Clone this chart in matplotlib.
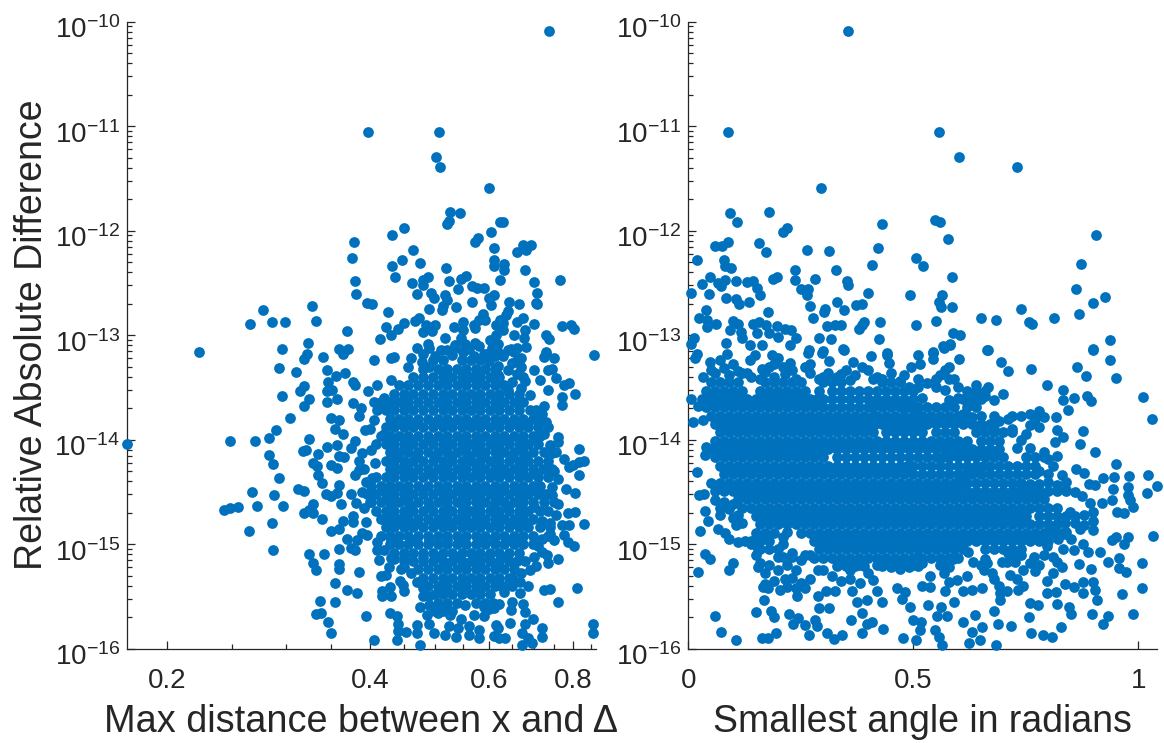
# scatter of relative difference, left = max distance, right = smallest angle
import numpy as np
import matplotlib
matplotlib.use("Agg")
import matplotlib.pyplot as plt
from matplotlib.ticker import FixedLocator, FixedFormatter, NullFormatter
from matplotlib.transforms import ScaledTranslation

y_ticks = [-16, -15, -14, -13, -12, -11, -10]
y_labels = ["$10^{%d}$" % e for e in y_ticks]
left_xticks = [0.2, 0.4, 0.6, 0.8]
left_xticklabels = ["0.2", "0.4", "0.6", "0.8"]
right_xticks = [0, 0.5, 1]
right_xticklabels = ["0", "0.5", "1"]

# (x, log10 of difference)
left_points = [
    (.738,-10.09),(.398,-11.06),(.506,-11.06),(.501,-11.29),(.508,-11.39),(.601,-11.59),(.525,-11.82),(.544,-11.83),
    (.523,-11.91),(.521,-11.94),(.449,-11.97),(.623,-11.92),(.629,-11.92),(.604,-12.01),(.431,-12.04),(.379,-12.11),
    (.578,-12.07),(.573,-12.11),(.611,-12.17),(.464,-12.18),(.692,-12.14),(.675,-12.14),(.681,-12.18),(.660,-12.2),
    (.376,-12.26),(.446,-12.28),(.61,-12.28),(.633,-12.32),(.611,-12.34),(.475,-12.31),(.432,-12.34),(.518,-12.36),
    (.633,-12.38),(.678,-12.38),(.436,-12.44),(.555,-12.43),(.546,-12.46),(.488,-12.44),(.480,-12.47),(.380,-12.48),
    (.462,-12.5),(.523,-12.48),(.624,-12.47),(.765,-12.47),(.7,-12.49),(.480,-12.52),(.567,-12.53),(.577,-12.55),
    (.590,-12.55),(.541,-12.56),(.493,-12.6),(.381,-12.61),(.470,-12.61),(.516,-12.62),(.611,-12.62),(.6,-12.64),
    (.708,-12.6),(.498,-12.64),(.520,-12.66),(.567,-12.68),(.642,-12.68),(.665,-12.7),(.396,-12.69),(.403,-12.7),
    (.705,-12.69),(.708,-12.7),(.605,-12.71),(.328,-12.72),(.513,-12.72),(.536,-12.73),(.489,-12.75),(.278,-12.76),
    (.512,-12.76),(.640,-12.77),(.426,-12.78),(.637,-12.81),(.588,-12.8),(.473,-12.84),(.466,-12.86),(.450,-12.88),
    (.333,-12.86),(.286,-12.87),(.299,-12.87),(.266,-12.89),(.675,-12.84),(.66,-12.87),(.623,-12.85),(.581,-12.85),
    (.55,-12.87),(.592,-12.85),(.70,-12.89),(.63,-12.88),(.77,-12.91),(.795,-12.9),(.803,-12.94),(.422,-12.92),
    (.484,-12.9),(.5,-12.9),(.532,-12.92),(.57,-12.9),(.615,-12.9),(.44,-12.94),(.37,-12.96),(.63,-12.95),
    (.68,-12.95),(.55,-12.95),(.572,-12.93),(.479,-12.97),(.495,-12.96),(.43,-13.0),(.73,-13.0),(.655,-13.0),
    (.615,-13.0),(.738,-13.04),(.414,-13.04),(.516,-13.03),(.546,-13.03),(.602,-13.05),(.676,-13.03),(.324,-13.07),
    (.572,-13.07),(.487,-13.08),(.534,-13.09),(.62,-13.08),(.553,-13.08),(.682,-13.11),(.296,-13.13),(.36,-13.13),
    (.49,-13.12),(.606,-13.12),(.648,-13.13),(.73,-13.16),(.223,-13.16),
    (.858,-13.19),(.323,-13.18),(.32,-13.23),(.341,-13.21),(.293,-13.31),(.311,-13.35),(.346,-13.33),(.365,-13.18),
    (.371,-13.13),(.405,-13.24),(.43,-13.22),(.434,-13.21),(.46,-13.22),(.477,-13.26),(.455,-13.3),(.356,-13.39),
    (.368,-13.36),(.347,-13.45),(.378,-13.45),(.38,-13.48),(.43,-13.43),(.41,-13.48),(.32,-13.49),(.315,-13.53),
    (.296,-13.58),(.325,-13.61),(.345,-13.53),(.352,-13.52),(.346,-13.64),(.357,-13.61),(.378,-13.65),(.398,-13.53),
    (.32,-13.68),(.305,-13.79),(.388,-13.7),(.385,-13.77),(.35,-13.79),(.36,-13.81),(.406,-13.81),(.355,-13.9),
    (.394,-13.91),(.365,-13.95),(.29,-13.91),(.284,-13.98),(.248,-14.01),(.27,-14.01),(.1747,-14.04),(.325,-13.99),
    (.38,-14.01),(.345,-14.07),(.358,-14.05),(.375,-14.08),(.318,-14.11),(.322,-14.1),(.335,-14.14),(.284,-14.15),
    (.39,-14.13),(.402,-14.1),(.36,-14.16),(.287,-14.23),(.366,-14.17),(.33,-14.22),(.334,-14.25),(.35,-14.24),
    (.357,-14.27),(.407,-14.22),(.385,-14.29),(.392,-14.28),(.335,-14.34),(.34,-14.41),(.293,-14.37),(.38,-14.34),
    (.403,-14.37),(.36,-14.43),(.313,-14.47),(.32,-14.49),(.268,-14.5),(.288,-14.53),(.344,-14.52),(.35,-14.54),
    (.357,-14.51),(.375,-14.52),(.362,-14.62),(.382,-14.61),(.243,-14.67),(.248,-14.65),(.255,-14.64),(.272,-14.63),
    (.297,-14.63),(.33,-14.62),(.325,-14.67),(.32,-14.7),(.33,-14.7),(.392,-14.65),(.34,-14.76),(.378,-14.73),
    (.365,-14.78),(.378,-14.79),(.286,-14.8),(.395,-14.79),(.36,-14.85),(.35,-14.87),(.265,-14.87),(.389,-14.89),
    (.37,-14.95),(.396,-14.91),(.383,-14.96),(.36,-15.05),(.38,-15.06),(.375,-15.04),(.287,-15.06),(.342,-15.09),
    (.325,-15.09),(.41,-15.06),(.413,-15.15),(.33,-15.18),(.333,-15.25),(.36,-15.19),(.36,-15.24),(.43,-15.13),
    (.427,-15.22),(.445,-15.24),(.385,-15.27),(.415,-15.3),(.423,-15.29),(.355,-15.37),(.443,-15.35),(.448,-15.39),
    (.37,-15.44),(.383,-15.47),(.417,-15.45),(.428,-15.41),(.417,-15.5),(.43,-15.5),(.45,-15.45),(.337,-15.54),
    (.355,-15.55),(.48,-15.5),(.395,-15.69),(.333,-15.67),(.338,-15.66),(.347,-15.74),(.428,-15.66),(.438,-15.69),
    (.44,-15.76),(.475,-15.6),(.486,-15.68),(.35,-15.85),(.44,-15.83),(.452,-15.84),(.47,-15.77),(.49,-15.76),
    (.47,-15.85),(.405,-15.92),(.438,-15.92),(.475,-15.96),(.498,-15.85),(.516,-15.87),(.523,-15.78),(.536,-15.89),
    (.54,-15.8),(.56,-15.87),(.56,-15.78),(.58,-15.9),(.58,-15.82),(.57,-15.68),(.553,-15.58),(.59,-15.69),
    (.615,-15.77),(.62,-15.8),(.61,-15.88),(.622,-15.9),(.634,-15.9),(.645,-15.75),(.65,-15.55),(.648,-15.63),
    (.675,-15.57),(.68,-15.65),(.697,-15.72),(.68,-15.76),(.672,-15.85),(.685,-15.9),(.695,-15.95),(.673,-15.96),
    (.72,-15.8),(.72,-15.89),(.76,-15.55),(.855,-15.76),(.857,-15.85),(.81,-15.42),(.74,-15.43),(.725,-15.44),
    (.685,-15.4),(.668,-15.47),(.668,-15.36),(.632,-15.46),(.622,-15.57),(.61,-15.61),(.76,-15.14),(.735,-15.18),
    (.705,-15.21),(.733,-15.1),(.803,-15.02),(.785,-14.98),(.75,-14.96),(.775,-14.91),(.83,-14.81),(.79,-14.82),
    (.77,-14.82),(.74,-14.8),(.785,-14.7),(.805,-14.69),(.76,-14.62),(.745,-14.53),(.805,-14.51),(.78,-14.47),
    (.815,-14.34),(.79,-14.26),(.83,-14.2),(.815,-14.21),(.8,-14.24),(.775,-14.18),(.815,-14.09),(.755,-14.12),
    (.76,-14.02),(.76,-13.97),(.735,-13.88),(.805,-13.56),(.77,-13.67),(.79,-13.46),(.775,-13.48),(.77,-13.59),
    (.755,-13.41),(.745,-13.32),(.735,-13.33),(.75,-13.22),(.73,-13.18),(.725,-13.21),(.715,-13.43),(.735,-13.52),
    (.725,-13.68),(.705,-13.72),(.675,-13.4),(.7,-13.33),(.655,-13.16),(.67,-13.22),(.66,-13.37),(.64,-13.52),
    (.67,-13.51),(.69,-13.57),(.665,-13.62),(.62,-13.29),(.612,-13.2),
    (.51,-13.14),(.53,-13.19),(.55,-13.16),(.57,-13.2),(.6,-13.25),(.63,-13.2),(.65,-13.27),
    (.5,-13.2),(.52,-13.14),(.535,-13.12),(.56,-13.13),(.58,-13.1),(.59,-13.18),(.6,-13.17),(.62,-13.16),(.64,-13.14),
    (.66,-13.12),(.66,-13.25),(.64,-13.33),(.62,-13.38),(.65,-13.45),(.67,-13.3),(.68,-13.44),(.48,-13.18),(.47,-13.12),
    (.49,-13.3),(.72,-13.75),(.73,-13.83),(.725,-13.95),(.74,-14.05),(.745,-14.13),(.735,-14.2),(.75,-14.3),(.76,-14.38),
    (.745,-14.45),(.73,-14.52),(.75,-14.6),(.735,-14.68),(.755,-14.72),(.72,-14.78),(.74,-14.9),(.72,-14.95),(.71,-15.02),
    (.72,-15.07),(.7,-15.12),(.68,-15.16),(.69,-15.25),(.67,-15.28),(.65,-15.32),(.63,-15.4),(.65,-15.4),
    (.405,-13.64),(.42,-13.6),(.41,-13.72),(.40,-13.9),(.42,-13.95),(.385,-14.2),(.395,-14.4),(.39,-14.5),(.4,-14.6),
    (.41,-14.98),(.42,-15.06),(.435,-15.14),(.45,-15.22),(.46,-15.28),(.47,-15.36),(.48,-15.42),(.49,-15.5),(.49,-15.58),
    (.505,-15.66),(.525,-15.68),(.545,-15.72),(.6,-15.62),(.59,-15.6),
]

# the solid part of the cloud, row by row
left_core_y = [-13.24,-13.32,-13.40,-13.48,-13.56,-13.64,-13.72,-13.80,-13.88,-13.96,-14.04,-14.12,-14.20,-14.28,-14.36,
               -14.44,-14.52,-14.60,-14.68,-14.76,-14.84,-14.92,-15.00,-15.08,-15.16,-15.24,-15.32,-15.40,-15.48,-15.56,-15.64,
               -13.84,-14.00,-14.16,-14.32,-14.48,-14.64,-14.80,-14.96,-15.12]
left_core_x = [
    [.496,.513,.547,.565,.583],
    [.48,.504,.521,.538,.556,.574,.592,.612],
    [.464,.48,.496,.513,.53,.547,.565,.583,.602,.622],
    [.442,.456,.472,.488,.504,.521,.538,.556,.574,.592,.612,.632],
    [.435,.449,.464,.48,.496,.513,.53,.547,.565,.583,.602,.622,.642,.664],
    [.415,.428,.442,.456,.472,.488,.504,.521,.538,.556,.574,.592,.612,.632,.653,.675],
    [.422,.435,.449,.464,.48,.496,.513,.53,.547,.565,.583,.602,.622,.642,.664,.69],
    [.428,.442,.456,.472,.488,.504,.521,.538,.556,.574,.592,.612,.632,.653,.675,.697,.715],
    [.422,.435,.449,.464,.48,.496,.513,.53,.547,.565,.583,.602,.622,.642,.664,.686,.709],
    [.415,.428,.442,.456,.472,.488,.504,.521,.538,.556,.574,.592,.612,.632,.653,.675,.697,.715],
    [.409,.422,.435,.449,.464,.48,.496,.513,.53,.547,.565,.583,.602,.622,.642,.664,.686,.709],
    [.428,.442,.456,.472,.488,.504,.521,.538,.556,.574,.592,.612,.632,.653,.675,.697,.725],
    [.422,.435,.449,.464,.48,.496,.513,.53,.547,.565,.583,.602,.622,.642,.664,.686,.709],
    [.428,.442,.456,.472,.488,.504,.521,.538,.556,.574,.592,.612,.632,.653,.675,.697,.721,.745],
    [.409,.422,.435,.449,.464,.48,.496,.513,.53,.547,.565,.583,.602,.622,.642,.664,.686,.709,.735],
    [.402,.415,.428,.442,.456,.472,.488,.504,.521,.538,.556,.574,.592,.612,.632,.653,.675,.697,.715],
    [.396,.409,.422,.435,.449,.464,.48,.496,.513,.53,.547,.565,.583,.602,.622,.642,.664,.686,.709],
    [.402,.415,.428,.442,.456,.472,.488,.504,.521,.538,.556,.574,.592,.612,.632,.653,.675,.697,.725],
    [.409,.422,.435,.449,.464,.48,.496,.513,.53,.547,.565,.583,.602,.622,.642,.664,.686,.715],
    [.415,.428,.442,.456,.472,.488,.504,.521,.538,.556,.574,.592,.612,.632,.653,.675,.697],
    [.422,.435,.449,.464,.48,.496,.513,.53,.547,.565,.583,.602,.622,.642,.664,.686,.715,.74],
    [.415,.428,.442,.456,.472,.488,.504,.521,.538,.556,.574,.592,.612,.632,.653,.675,.697,.735],
    [.428,.442,.456,.472,.488,.504,.521,.538,.556,.574,.592,.612,.632,.653,.675,.697],
    [.435,.449,.464,.48,.496,.513,.53,.547,.565,.583,.602,.622,.642,.664],
    [.449,.464,.48,.496,.513,.53,.547,.565,.583,.602,.622,.642,.66],
    [.472,.488,.504,.521,.538,.556,.574,.592,.612,.632,.653],
    [.48,.496,.513,.53,.547,.565,.583,.602,.622,.642],
    [.488,.504,.521,.538,.556,.574,.592,.612,.625],
    [.5,.513,.53,.547,.565,.583,.602],
    [.504,.521,.538,.574,.592,.608],
    [.5,.513,.53],
    [.44,.47,.5,.53,.56,.59,.62,.65,.68],
    [.43,.46,.49,.52,.55,.58,.61,.64,.67,.7],
    [.44,.47,.5,.53,.56,.59,.62,.65,.68],
    [.43,.46,.49,.52,.55,.58,.61,.64,.67,.7],
    [.42,.45,.48,.51,.54,.57,.6,.63,.66,.69],
    [.43,.46,.49,.52,.55,.58,.61,.64,.67,.7],
    [.44,.47,.5,.53,.56,.59,.62,.65,.68],
    [.43,.46,.49,.52,.55,.58,.61,.64,.67],
    [.45,.48,.51,.54,.57,.6,.63],
]

right_points = [
    (.355,-10.09),(.088,-11.06),(.557,-11.06),(.602,-11.29),(.73,-11.39),(.295,-11.59),(.092,-11.83),(.179,-11.82),
    (.108,-11.92),(.43,-11.94),(.547,-11.9),(.56,-11.92),(.22,-11.97),(.21,-12.01),(.906,-12.04),(.578,-12.08),
    (.089,-12.11),(.06,-12.15),(.074,-12.15),(.156,-12.12),(.173,-12.2),(.264,-12.18),(.312,-12.19),(.421,-12.17),
    (.02,-12.28),(.08,-12.28),(.081,-12.34),(.094,-12.36),(.507,-12.26),(.521,-12.34),(.409,-12.33),(.873,-12.32),
    (.236,-12.38),(.328,-12.38),(.048,-12.44),(.585,-12.44),(.198,-12.44),(.188,-12.46),(.237,-12.47),(.281,-12.46),
    (.081,-12.47),(.105,-12.48),(.13,-12.49),(.144,-12.48),(.352,-12.48),(.354,-12.52),(.067,-12.5),(.03,-12.51),
    (.072,-12.53),(.153,-12.55),(.25,-12.56),(.266,-12.56),(.264,-12.62),(.862,-12.56),(.007,-12.6),(.046,-12.61),
    (.159,-12.62),(.4,-12.6),(.493,-12.62),(.563,-12.62),(.558,-12.68),(.561,-12.73),(.585,-12.73),(.084,-12.64),
    (.105,-12.65),(.113,-12.7),(.135,-12.68),(.33,-12.68),(.926,-12.63),(.899,-12.69),(.385,-12.7),(.373,-12.71),
    (.27,-12.72),(.304,-12.75),(.301,-12.78),(.039,-12.76),(.347,-12.76),(.178,-12.78),(.739,-12.75),(.867,-12.8),
    (.023,-12.84),(.041,-12.85),(.277,-12.84),(.65,-12.84),(.683,-12.85),(.813,-12.84),(.758,-12.87),(.763,-12.89),
    (.55,-12.86),(.505,-12.9),(.426,-12.87),(.391,-12.87),(.387,-12.9),(.1,-12.86),(.111,-12.89),(.061,-12.89),
    (.042,-12.92),(.143,-12.89),(.158,-12.87),(.173,-12.9),(.309,-12.91),(.327,-12.9),(.34,-12.9),(.198,-12.91),
    (.215,-12.94),(.228,-12.95),(.38,-12.94),(.093,-12.95),(.116,-12.97),(.153,-12.98),(.18,-12.98),(.2,-13.02),
    (.589,-12.98),(.604,-13.0),(.239,-13.03),(.291,-13.03),(.318,-13.04),(.423,-13.04),(.119,-13.03),(.013,-13.03),
    (.084,-13.07),(.137,-13.09),(.163,-13.09),(.226,-13.09),(.007,-13.08),(.581,-13.08),(.565,-13.1),(.936,-13.05),
    (.268,-13.14),(.344,-13.13),(.299,-13.15),(.663,-13.14),(.899,-13.13),(.544,-13.16),(.441,-13.17),
    (.019,-13.18),(.015,-13.22),(.085,-13.18),(.07,-13.24),(.048,-13.26),(.148,-13.19),(.137,-13.24),(.185,-13.19),
    (.2,-13.22),(.163,-13.32),(.225,-13.27),(.215,-13.37),(.265,-13.17),(.296,-13.17),(.313,-13.25),(.346,-13.14),
    (.367,-13.26),(.385,-13.3),(.407,-13.2),(.442,-13.19),(.446,-13.27),(.511,-13.19),(.494,-13.3),(.515,-13.28),
    (.544,-13.17),(.544,-13.23),(.567,-13.12),(.581,-13.09),(.665,-13.14),(.601,-13.23),(.58,-13.3),(.57,-13.33),
    (.695,-13.26),(.71,-13.34),(.761,-13.32),(.899,-13.14),(.936,-13.24),(.95,-13.41),(.863,-13.3),(.884,-13.39),
    (1.011,-13.59),(1.031,-13.8),(.796,-13.48),(.833,-13.52),(.833,-13.62),(.858,-13.6),(.885,-13.58),(.894,-13.63),
    (.844,-13.72),(.816,-13.78),(.876,-13.92),(.819,-13.91),(.832,-13.97),(.815,-14.02),(.87,-14.04),(.904,-14.12),
    (.819,-14.16),(.95,-14.23),(.861,-14.28),(.88,-14.32),(.83,-14.34),(.922,-14.37),(.946,-14.36),(.98,-14.35),
    (1.021,-14.34),(.976,-14.45),(.891,-14.42),(.904,-14.43),(.944,-14.47),(1.041,-14.44),(1.02,-14.51),(.978,-14.53),
    (.874,-14.54),(.941,-14.58),(.989,-14.64),(.981,-14.58),(.919,-14.61),(.893,-14.61),(.952,-14.69),(.968,-14.7),
    (.848,-14.69),(.9,-14.69),(.9,-14.78),(.87,-14.85),(.9,-14.86),(.837,-14.8),(.811,-14.86),(.837,-14.9),
    (.822,-14.95),(.95,-14.93),(.941,-14.96),(.978,-14.93),(.968,-15.0),(1.033,-14.92),(.878,-15.0),(.889,-15.07),
    (.915,-15.07),(.833,-15.05),(.856,-15.06),(.796,-15.02),(.811,-15.12),(.83,-15.22),(.819,-15.17),(.867,-15.19),
    (.894,-15.24),(.933,-15.17),(.956,-15.13),(.956,-15.23),(.972,-15.27),(1.007,-15.18),(.81,-15.28),(.796,-15.35),
    (.837,-15.38),(.856,-15.41),(.878,-15.36),(.9,-15.36),(.878,-15.47),(.904,-15.44),(.907,-15.53),(1.007,-15.42),
    (.964,-15.48),(.796,-15.47),(.816,-15.46),(.82,-15.57),(.759,-15.56),(.776,-15.58),(.846,-15.6),(.85,-15.67),
    (.896,-15.67),(.933,-15.69),(.987,-15.67),(.922,-15.76),(.758,-15.7),(.827,-15.79),(.762,-15.85),(.787,-15.87),
    (.807,-15.89),(.716,-15.78),(.687,-15.76),(.679,-15.64),(.636,-15.68),(.652,-15.79),(.63,-15.84),(.648,-15.92),
    (.624,-15.95),(.684,-15.96),(.611,-15.74),(.574,-15.69),(.552,-15.69),(.562,-15.6),(.59,-15.55),(.533,-15.58),
    (.548,-15.82),(.556,-15.89),(.564,-15.96),(.505,-15.92),(.478,-15.9),(.515,-15.82),(.5,-15.73),(.517,-15.74),
    (.493,-15.6),(.433,-15.81),(.409,-15.74),(.396,-15.76),(.385,-15.85),(.387,-15.66),(.361,-15.73),(.341,-15.87),
    (.324,-15.91),(.309,-15.85),(.269,-15.87),(.285,-15.78),(.281,-15.73),(.259,-15.77),(.244,-15.71),(.233,-15.76),
    (.224,-15.67),(.313,-15.61),(.29,-15.61),(.195,-15.85),(.178,-15.9),(.163,-15.9),(.106,-15.92),(.072,-15.84),
    (.059,-15.69),(.19,-15.7),(.184,-15.64),(.15,-15.65),(.169,-15.53),(.022,-15.27),(.09,-15.25),(.1,-15.18),
    (.048,-15.14),(.037,-15.09),(.027,-14.87),(.044,-14.78),(.037,-14.68),(.067,-14.85),(.081,-14.89),(.005,-13.61),
    (.011,-13.83),(.019,-14.31),(.024,-14.53),(.035,-14.52),(.039,-14.07),(.036,-14.15),(.033,-13.4),(.022,-13.68),
    (.033,-13.81),(.167,-15.41),(.178,-15.42),(.204,-15.44),(.241,-15.5),(.215,-15.33),(.27,-15.33),(.289,-15.25),
    (.289,-15.5),(.307,-15.45),(.327,-15.45),(.363,-15.45),(.374,-15.55),(.396,-15.53),(.431,-15.55),(.419,-15.45),
    (.411,-15.34),(.381,-15.37),(.463,-15.42),(.481,-15.46),(.474,-15.52),(.519,-15.4),(.536,-15.3),(.537,-15.41),
    (.57,-15.45),(.611,-15.45),(.63,-15.44),(.652,-15.42),(.619,-15.3),(.596,-15.34),(.567,-15.28),(.589,-15.14),
    (.622,-15.07),(.633,-15.17),(.663,-15.18),(.674,-15.28),(.656,-15.25),(.693,-15.47),(.707,-15.45),(.693,-15.53),
    (.696,-15.17),(.722,-15.1),(.707,-15.17),(.744,-15.25),(.715,-15.29),(.73,-15.33),(.77,-15.26),(.733,-15.44),
    (.744,-15.4),(.767,-15.12),(.726,-15.17),
    (.06,-13.36),(.09,-13.38),(.12,-13.36),(.19,-13.4),(.24,-13.42),(.27,-13.36),(.3,-13.4),(.34,-13.37),(.37,-13.38),
    (.42,-13.4),(.47,-13.44),(.51,-13.42),(.53,-13.46),(.59,-13.42),(.64,-13.48),(.665,-13.5),
    (.06,-14.58),(.07,-14.65),(.08,-14.6),(.09,-14.66),(.1,-14.62),(.07,-14.72),(.11,-14.72),(.12,-14.8),(.1,-14.75),
    (.105,-14.82),(.09,-14.95),(.11,-14.98),(.125,-14.97),(.14,-15.0),(.155,-15.05),
    (.15,-15.1),(.16,-15.18),(.155,-15.22),(.17,-15.28),(.18,-15.2),(.2,-15.12),(.2,-15.25),(.21,-15.12),(.22,-15.2),
    (.23,-15.32),(.24,-15.25),(.25,-15.15),(.23,-15.12),(.26,-15.1),(.25,-15.37),(.26,-15.42),(.17,-15.38),(.19,-15.35),
    (.24,-15.42),(.22,-15.41),(.3,-15.25),(.32,-15.3),(.34,-15.35),(.36,-15.33),(.36,-15.25),(.38,-15.2),(.4,-15.28),
    (.42,-15.2),(.43,-15.15),(.45,-15.22),(.47,-15.24),(.49,-15.22),(.5,-15.2),(.52,-15.18),(.51,-15.12),
    (.56,-15.2),(.57,-15.15),(.58,-15.36),(.58,-15.22),(.65,-15.2),(.68,-15.33),(.69,-15.4),(.66,-15.14),
    (.74,-15.1),(.76,-15.18),(.78,-15.2),(.79,-15.1),(.71,-15.08),
    (.05,-13.33),(.08,-13.31),(.1,-13.28),(.11,-13.34),(.13,-13.36),(.14,-13.4),(.16,-13.42),(.17,-13.35),(.18,-13.3),
    (.19,-13.28),(.21,-13.3),(.23,-13.33),(.26,-13.3),(.27,-13.28),(.29,-13.42),(.31,-13.36),(.33,-13.4),(.35,-13.33),
    (.36,-13.43),(.4,-13.33),(.41,-13.42),(.43,-13.42),(.45,-13.36),(.48,-13.38),(.49,-13.5),(.51,-13.5),(.55,-13.42),
    (.56,-13.38),(.58,-13.42),(.55,-13.5),(.57,-13.52),(.6,-13.5),(.6,-13.6),(.58,-13.62),(.52,-13.6),(.51,-13.75),
    (.5,-13.7),(.48,-13.7),(.52,-13.8),(.61,-13.75),(.63,-13.78),(.68,-13.62),(.7,-13.56),(.66,-13.58),(.69,-13.82),(.68,-13.9),
    (.76,-13.75),(.78,-13.73),(.77,-13.8),(.79,-13.78),(.76,-13.86),(.78,-13.88),(.75,-13.95),(.71,-13.8),(.72,-13.9),
    (.74,-14.0),(.73,-14.08),(.76,-14.08),(.79,-14.12),(.8,-14.18),(.81,-14.25),(.78,-14.3),(.8,-14.33),(.8,-14.4),
    (.82,-14.43),(.84,-14.4),(.84,-14.48),(.86,-14.5),(.78,-14.42),(.76,-14.42),(.77,-14.5),(.74,-14.45),
    (.86,-14.73),(.86,-14.8),(.84,-14.88),(.85,-14.95),(.88,-14.72),(.88,-14.82),
    (.21,-14.93),(.21,-15.0),(.22,-14.88),(.23,-15.08),(.27,-15.1),
    (.29,-13.53),(.285,-13.61),(.31,-13.77),(.32,-13.85),(.38,-13.53),(.38,-13.61),(.4,-13.61),(.38,-13.69),(.4,-13.69),
    (.41,-13.69),(.41,-13.77),(.42,-13.77),(.415,-13.85),(.4,-14.01),(.41,-14.09),(.49,-13.69),(.51,-13.69),(.48,-13.77),
    (.5,-13.77),(.52,-13.77),(.59,-13.69),(.6,-13.77),(.62,-13.77),(.65,-13.77),(.68,-13.77),(.61,-13.85),(.67,-13.85),
    (.56,-14.01),(.57,-14.09),(.565,-14.17),(.485,-14.25),(.27,-14.25),(.655,-14.25),(.615,-14.33),(.605,-14.41),(.63,-14.73),
    (.74,-14.49),(.76,-14.49),(.13,-14.09),(.14,-14.17),
]

right_core_y = [-13.45,-13.53,-13.61,-13.69,-13.77,-13.85,-13.93,-14.01,-14.09,-14.17,-14.25,-14.33,-14.41,-14.49,-14.57,
                -14.65,-14.73,-14.81,-14.89,-14.97,-15.05,-15.13,-15.21]
right_core_x = [
    [.05,.07,.09,.11,.17,.19,.21,.23,.25,.3,.32,.34,.43,.45,.47],
    [.04,.06,.08,.1,.12,.16,.18,.2,.22,.24,.26,.32,.34,.36,.4,.42,.44,.46,.48,.5,.62,.64,.66],
    [.03,.05,.07,.09,.11,.13,.15,.17,.19,.21,.23,.25,.27,.3,.32,.34,.36,.42,.44,.46,.48,.5,.61,.63,.65],
    [.04,.06,.08,.1,.12,.14,.16,.18,.2,.22,.24,.26,.28,.3,.32,.34,.36,.43,.45,.47,.53,.55,.57,.62,.64],
    [.05,.07,.09,.11,.13,.15,.17,.19,.21,.23,.25,.27,.29,.33,.35,.37,.39,.44,.46,.54,.56,.58,.72,.74],
    [.06,.08,.1,.12,.14,.16,.18,.2,.22,.24,.26,.28,.3,.34,.36,.38,.4,.43,.45,.47,.49,.51,.53,.55,.57,.59,.63,.65],
    [.07,.09,.11,.13,.15,.17,.19,.21,.23,.25,.27,.29,.31,.33,.35,.37,.39,.41,.44,.46,.48,.5,.52,.55,.57,.59,.64,.66,.68,.7,.72],
    [.06,.08,.1,.12,.14,.16,.18,.2,.22,.24,.26,.28,.3,.32,.34,.36,.38,.42,.44,.46,.48,.5,.52,.54,.58,.6,.62,.65,.67,.69],
    [.05,.07,.09,.11,.15,.17,.19,.21,.23,.25,.27,.29,.31,.33,.35,.37,.39,.43,.45,.47,.49,.51,.53,.55,.59,.61,.63,.65,.67,.69],
    [.06,.08,.1,.12,.16,.18,.2,.22,.24,.26,.28,.3,.33,.35,.37,.39,.41,.43,.45,.47,.49,.51,.53,.55,.58,.6,.62,.64,.66,.68,.7,.75,.77,.79],
    [.07,.09,.11,.13,.15,.17,.19,.21,.23,.25,.29,.31,.33,.35,.37,.39,.41,.43,.45,.47,.5,.52,.54,.56,.58,.6,.62,.64,.67,.69,.71,.73,.75,.77],
    [.08,.1,.12,.14,.16,.18,.2,.22,.24,.26,.28,.3,.32,.34,.36,.38,.4,.42,.44,.46,.48,.5,.52,.54,.56,.58,.6,.63,.65,.67,.69,.71,.73,.75,.77],
    [.05,.07,.09,.11,.13,.15,.17,.19,.21,.23,.25,.27,.29,.31,.33,.35,.37,.39,.41,.43,.45,.47,.49,.51,.53,.55,.57,.59,.62,.64,.66,.68,.7,.72,.74],
    [.06,.08,.1,.12,.14,.16,.18,.2,.22,.24,.26,.28,.3,.32,.34,.36,.38,.4,.42,.44,.46,.48,.5,.52,.54,.56,.58,.6,.62,.64,.66,.68,.7,.72,.78,.8,.82,.84],
    [.11,.13,.15,.17,.19,.21,.23,.25,.27,.29,.31,.33,.35,.37,.39,.41,.43,.45,.47,.49,.51,.53,.55,.57,.59,.61,.63,.65,.67,.69,.71,.73,.75,.77,.79],
    [.12,.14,.16,.18,.2,.22,.24,.26,.28,.3,.32,.34,.36,.38,.4,.42,.44,.46,.48,.5,.52,.54,.56,.58,.6,.62,.64,.66,.68,.7,.72,.74,.76,.78,.8,.82],
    [.15,.17,.19,.21,.23,.25,.27,.29,.31,.33,.35,.37,.39,.41,.43,.45,.47,.49,.51,.53,.55,.57,.59,.61,.65,.67,.69,.71,.73,.75,.78,.8,.82,.84],
    [.16,.18,.2,.22,.24,.26,.28,.3,.32,.34,.36,.38,.4,.42,.44,.46,.48,.5,.52,.54,.56,.58,.6,.62,.64,.66,.68,.7,.72,.74,.76,.78,.8,.82],
    [.15,.17,.19,.25,.27,.29,.31,.33,.35,.37,.39,.41,.43,.45,.47,.49,.51,.53,.55,.57,.59,.61,.63,.65,.67,.69,.71,.73,.75,.77,.79,.81,.83],
    [.14,.16,.18,.28,.3,.32,.34,.36,.38,.4,.42,.44,.46,.48,.5,.52,.54,.56,.58,.6,.62,.64,.66,.68,.7,.72,.74,.76,.78,.8],
    [.16,.18,.2,.29,.31,.33,.35,.37,.39,.41,.43,.45,.47,.49,.51,.53,.55,.57,.59,.61,.66,.68,.7,.72,.74],
    [.28,.3,.32,.34,.36,.38,.4,.42,.44,.46,.48,.5,.52,.54,.56,.58,.6],
    [.33,.35,.37,.39,.43,.45,.47,.49,.51],
]


def collect(points, core_y, core_x):
    xs = [p[0] for p in points]
    ys = [10.0 ** p[1] for p in points]
    for e, row in zip(core_y, core_x):
        xs.extend(row)
        ys.extend([10.0 ** e] * len(row))
    return np.array(xs), np.array(ys)


def style_axes(ax):
    ax.spines['top'].set_visible(False)
    ax.spines['right'].set_visible(False)
    for side in ['left', 'bottom']:
        ax.spines[side].set_color('#262626')
        ax.spines[side].set_linewidth(0.9)
    ax.set_yscale('log')
    ax.set_ylim(1e-16, 1e-10)
    ax.yaxis.set_major_locator(FixedLocator([10.0 ** e for e in y_ticks]))
    ax.yaxis.set_major_formatter(FixedFormatter(y_labels))
    minor = [m * 10.0 ** e for e in y_ticks[:-1] for m in range(2, 10)]
    ax.yaxis.set_minor_locator(FixedLocator(minor))
    ax.yaxis.set_minor_formatter(NullFormatter())
    ax.tick_params(which='major', direction='in', length=6, width=0.9, color='#262626',
                   labelcolor='#262626', labelsize=20)
    ax.tick_params(which='minor', direction='in', length=3.5, width=0.9, color='#262626')
    ax.tick_params(axis='x', which='major', pad=14)
    ax.tick_params(axis='y', which='major', pad=5)


plt.rcParams['font.family'] = ['Liberation Sans', 'DejaVu Sans']
plt.rcParams['mathtext.default'] = 'regular'

W, H = 1164.0, 743.0
fig = plt.figure(figsize=(W / 100, H / 100), dpi=100)
bottom = 1 - 648.7 / H
height = (648.7 - 21.7) / H
ax1 = fig.add_axes([127 / W, bottom, (595.7 - 127) / W, height])
ax2 = fig.add_axes([688.3 / W, bottom, (1157.3 - 688.3) / W, height])

blue = '#0072BD'
x1, y1 = collect(left_points, left_core_y, left_core_x)
x2, y2 = collect(right_points, right_core_y, right_core_x)
ax1.scatter(x1, y1, s=60, color=blue, linewidths=0, clip_on=False, zorder=3)
ax2.scatter(x2, y2, s=60, color=blue, linewidths=0, clip_on=False, zorder=3)

style_axes(ax1)
ax1.set_xscale('log')
ax1.set_xlim(0.1747, 0.864)
ax1.xaxis.set_major_locator(FixedLocator(left_xticks))
ax1.xaxis.set_major_formatter(FixedFormatter(left_xticklabels))
ax1.xaxis.set_minor_locator(FixedLocator([.25, .3, .35, .45, .5, .55, .65, .7, .75, .85]))
ax1.xaxis.set_minor_formatter(NullFormatter())
ax1.set_ylabel('Relative Absolute Difference', fontsize=27, color='#262626', labelpad=3)
ax1.set_xlabel('Max distance between x and Δ', fontsize=27.3, color='#262626', labelpad=7)

style_axes(ax2)
ax2.set_xlim(0, 1.042)
ax2.xaxis.set_major_locator(FixedLocator(right_xticks))
ax2.xaxis.set_major_formatter(FixedFormatter(right_xticklabels))
ax2.xaxis.set_minor_locator(FixedLocator([]))
ax2.set_xlabel('Smallest angle in radians', fontsize=27, color='#262626', labelpad=7)

# exponent labels sit a little below their ticks
shift = ScaledTranslation(0, -4 / 72, fig.dpi_scale_trans)
for ax in (ax1, ax2):
    for lab in ax.get_yticklabels():
        lab.set_transform(lab.get_transform() + shift)

fig.savefig('out.png', dpi=100)
